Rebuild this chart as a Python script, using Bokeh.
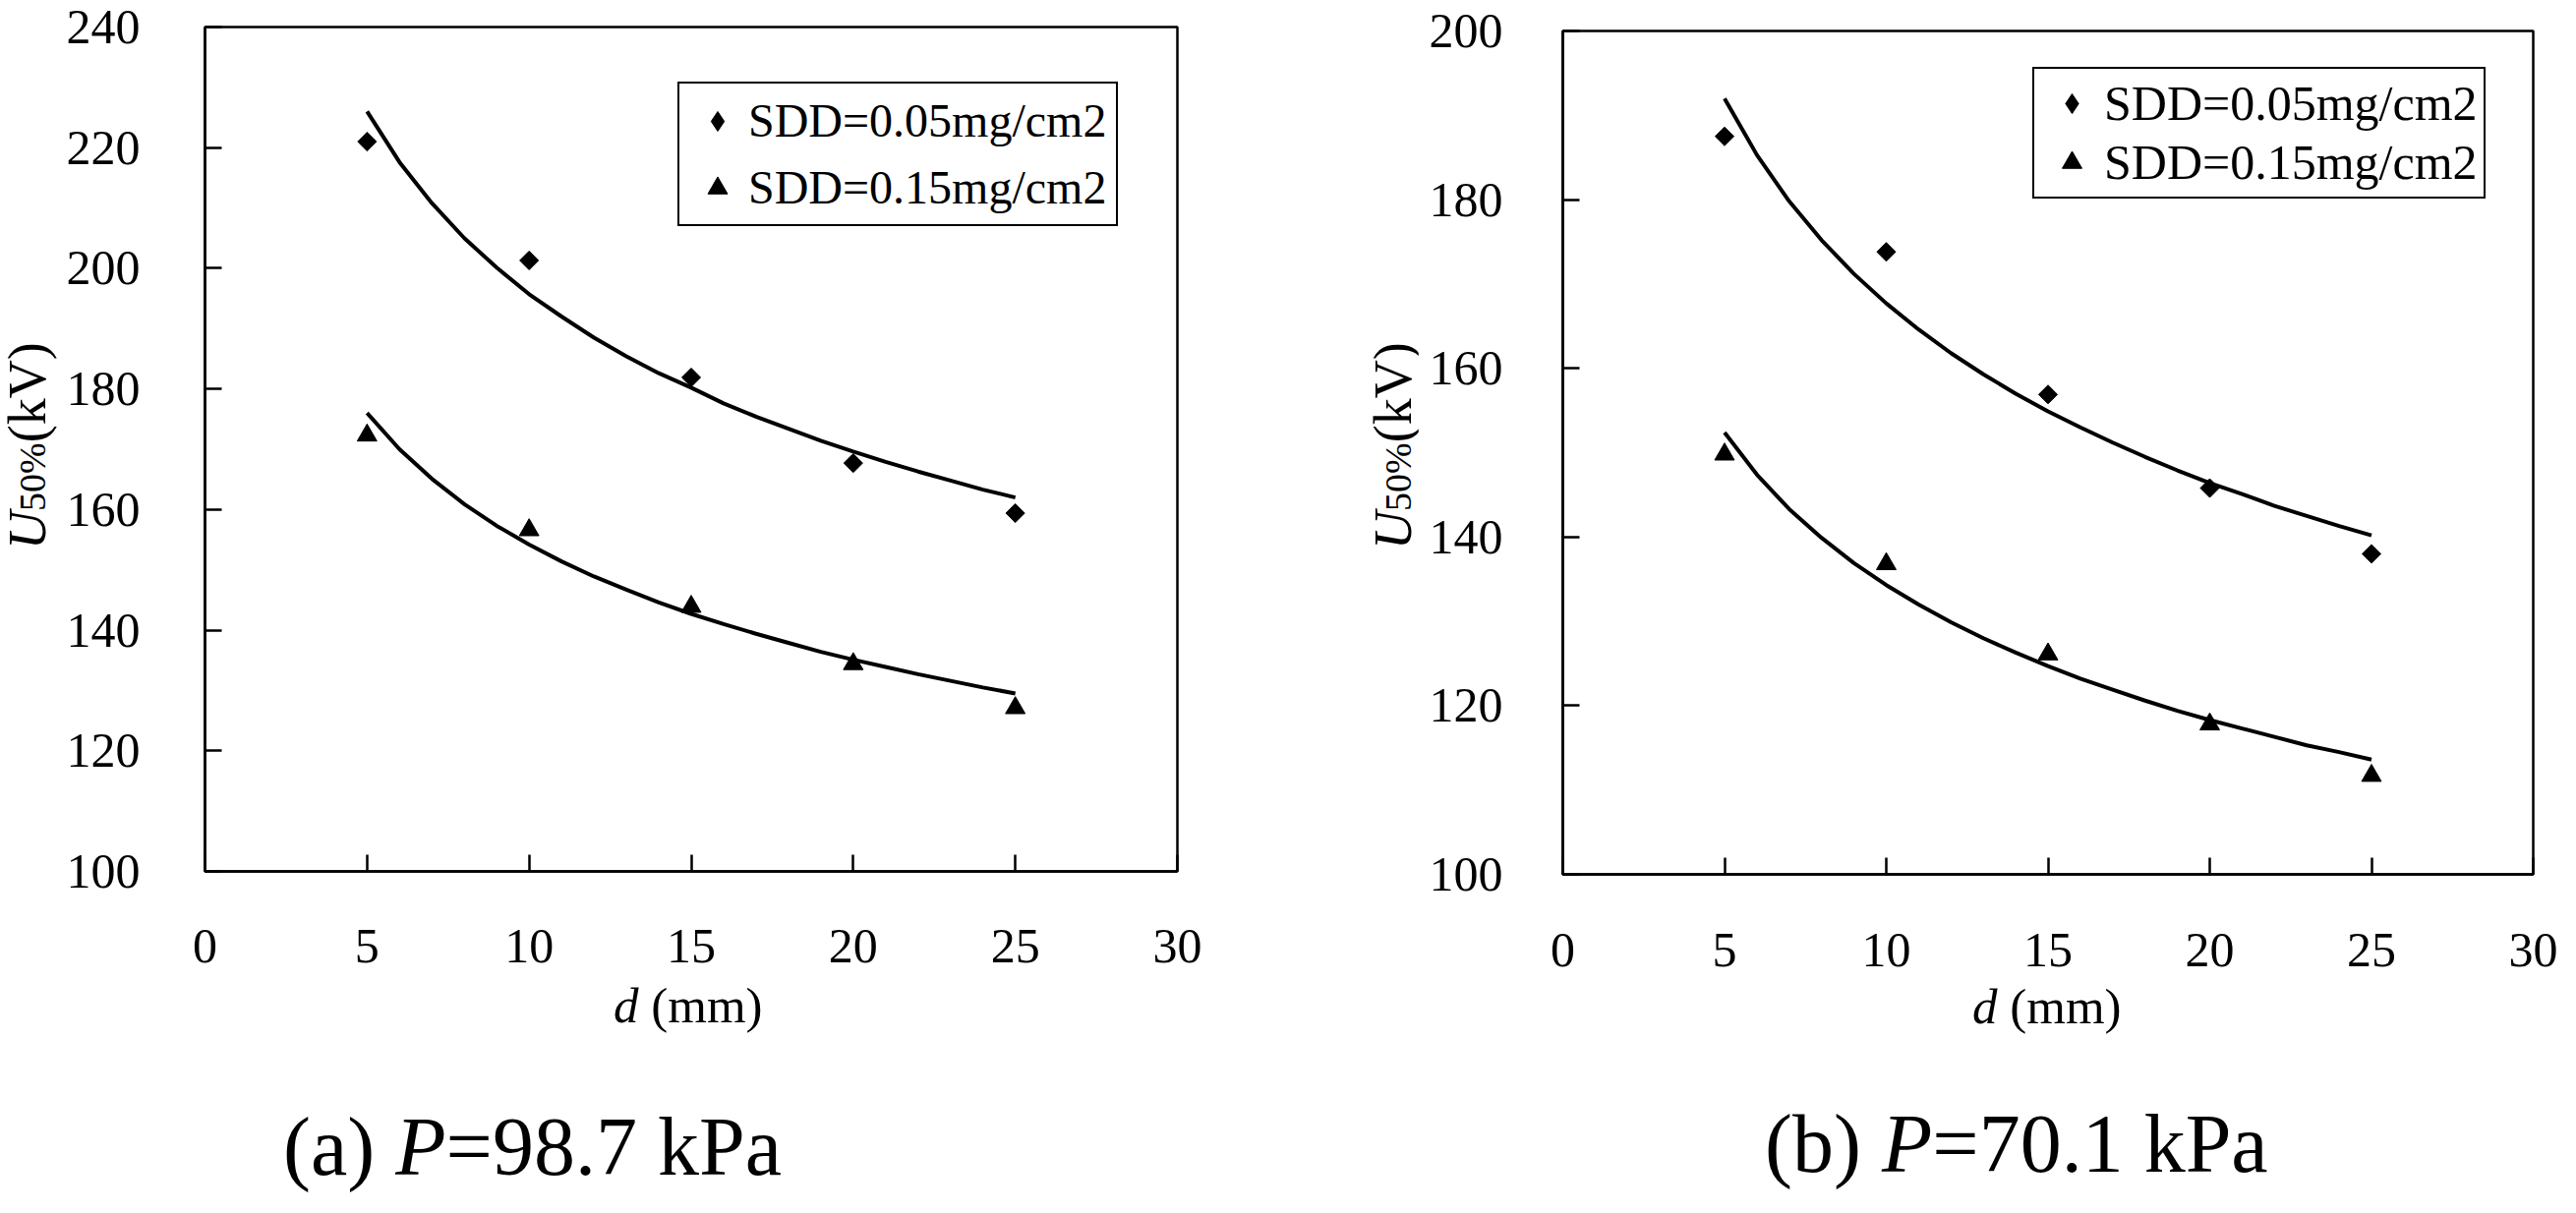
import math
from bokeh.plotting import figure
from bokeh.models import Range1d, FixedTicker, Legend, LegendItem, Div
from bokeh.layouts import row, column
from bokeh.embed import file_html
from bokeh.resources import INLINE

# ---------------- data ----------------
d_points = [5, 10, 15, 20, 25]
x_ticks = [0, 5, 10, 15, 20, 25, 30]
y_ticks_a = [100, 120, 140, 160, 180, 200, 220, 240]
y_ticks_b = [100, 120, 140, 160, 180, 200]

# (a) P = 98.7 kPa
a_sdd005 = [221.0, 201.3, 181.9, 167.7, 159.4]
a_sdd015 = [172.3, 156.6, 143.9, 134.4, 127.1]
# (b) P = 70.1 kPa
b_sdd005 = [187.5, 173.8, 156.9, 145.8, 138.0]
b_sdd015 = [149.8, 136.8, 126.1, 117.8, 111.7]

# fitted trend curves
fit_d = [5, 6, 7, 8, 9, 10, 11, 12, 13, 14, 15, 16, 17, 18, 19, 20, 21, 22, 23, 24, 25]
a_fit005 = [226.0, 217.6, 210.8, 205.0, 200.1, 195.7, 192.0, 188.5, 185.4, 182.6, 180.2,
            177.6, 175.4, 173.4, 171.4, 169.6, 167.9, 166.3, 164.8, 163.3, 162.0]
a_fit015 = [176.0, 170.0, 165.1, 160.9, 157.3, 154.2, 151.4, 148.9, 146.7, 144.6, 142.7,
            141.0, 139.4, 137.9, 136.4, 135.1, 133.9, 132.7, 131.6, 130.5, 129.5]
b_fit005 = [192.0, 185.3, 179.8, 175.2, 171.2, 167.7, 164.6, 161.8, 159.3, 157.0, 154.9,
            153.0, 151.2, 149.5, 147.9, 146.4, 145.1, 143.7, 142.5, 141.3, 140.2]
b_fit015 = [152.4, 147.4, 143.3, 139.9, 136.9, 134.3, 132.0, 129.9, 128.0, 126.3, 124.7,
            123.2, 121.9, 120.6, 119.4, 118.3, 117.3, 116.3, 115.3, 114.5, 113.6]

series_names = ["SDD=0.05mg/cm2", "SDD=0.15mg/cm2"]
captions = [("(a) ", "P", "=98.7 kPa"), ("(b) ", "P", "=70.1 kPa")]
ylabel_parts = ("U", "50%", "(kV)")
xlabel_parts = ("d", " (mm)")

FONT = "Liberation Serif"
TOTAL_H = 1218


def make_fig(ymax, yticks, s005, s015, f005, f015, cfg):
    p = figure(frame_width=cfg["fw"], frame_height=cfg["fh"],
               min_border_left=cfg["bl"], min_border_right=cfg["br"],
               min_border_top=cfg["bt"], min_border_bottom=cfg["bb"],
               x_range=Range1d(0, 30), y_range=Range1d(100, ymax),
               output_backend="svg", toolbar_location=None, tools="")
    p.background_fill_color = "white"
    p.border_fill_color = "white"
    p.outline_line_color = "black"
    p.outline_line_width = 2.5
    p.outline_line_alpha = 1.0
    p.xgrid.visible = False
    p.ygrid.visible = False

    for ax, ticks, stand in ((p.xaxis[0], x_ticks, cfg["xstand"]),
                             (p.yaxis[0], yticks, cfg["ystand"])):
        ax.ticker = FixedTicker(ticks=ticks)
        ax.axis_line_color = "black"
        ax.axis_line_width = 2.5
        ax.major_tick_line_color = "black"
        ax.major_tick_line_width = 2.5
        ax.major_tick_in = 17
        ax.major_tick_out = 0
        ax.minor_tick_line_color = None
        ax.major_label_text_font = FONT
        ax.major_label_text_font_size = "50px"
        ax.major_label_text_color = "black"
        ax.major_label_standoff = stand

    # fitted curves
    p.line(fit_d, f005, line_color="black", line_width=4)
    p.line(fit_d, f015, line_color="black", line_width=4)
    # legend-shape for the diamond series (hidden below the drawn diamonds)
    r1_leg = p.scatter(d_points, s005, marker="diamond", size=16,
                       fill_color="black", line_color="black")
    # measured points
    p.scatter(d_points, s005, marker="square", angle=math.pi / 4, size=13.5,
              fill_color="black", line_color="black")
    r2 = p.scatter(d_points, s015, marker="triangle", size=20,
                   fill_color="black", line_color="black")

    lg = cfg["legend"]
    legend = Legend(items=[LegendItem(label=series_names[0], renderers=[r1_leg]),
                           LegendItem(label=series_names[1], renderers=[r2])],
                    location=(lg["x"], lg["y"]),
                    label_text_font=FONT, label_text_font_size=lg["fs"],
                    label_text_color="black",
                    label_height=lg["lh"], glyph_height=50, glyph_width=lg["gw"],
                    label_standoff=lg["st"], spacing=lg["sp"], padding=lg["pad"],
                    margin=0, border_line_color="black", border_line_width=2.5,
                    border_line_alpha=1.0,
                    background_fill_color="white", background_fill_alpha=1.0)
    p.add_layout(legend, "center")
    return p


def span(left, top, size, inner, extra=""):
    return ('<span style="position:absolute;left:%.1fpx;top:%.1fpx;white-space:nowrap;'
            "font-family:'Liberation Serif';font-size:%dpx;line-height:%dpx;color:#000;%s\">%s</span>"
            % (left, top, size, size, extra, inner))


def ylabel_div(width, left, top):
    u, sub, unit = ylabel_parts
    inner = '<i>%s</i><span style="font-size:38px;">%s</span>%s' % (u, sub, unit)
    html = ('<div style="position:relative;width:%dpx;height:%dpx;">' % (width, TOTAL_H)
            + span(left, top, 54, inner, "transform-origin:0 0;transform:rotate(-90deg);")
            + "</div>")
    return Div(text=html, width=width, height=TOTAL_H, margin=0,
               styles={"overflow": "visible"})


def bottom_div(width, height, xl, cap, cap_parts):
    pre, ital, post = cap_parts
    d, mm = xlabel_parts
    html = ('<div style="position:relative;width:%dpx;height:%dpx;">' % (width, height)
            + span(xl[0], xl[1], 51, "<i>%s</i>%s" % (d, mm))
            + span(cap[0], cap[1], 84, "%s<i>%s</i>%s" % (pre, ital, post))
            + "</div>")
    return Div(text=html, width=width, height=height, margin=0,
               styles={"overflow": "visible"})


cfg_a = dict(fw=989, fh=859, bl=150, br=95, bt=27, bb=130, xstand=59, ystand=66,
             legend=dict(x=481, y=656, fs="48px", lh=53, gw=57, st=3, sp=13, pad=10))
cfg_b = dict(fw=987, fh=858, bl=147, br=28, bt=31, bb=130, xstand=60, ystand=61,
             legend=dict(x=478, y=687, fs="50px", lh=55, gw=64, st=1, sp=2, pad=6))

pa = make_fig(240, y_ticks_a, a_sdd005, a_sdd015, a_fit005, a_fit015, cfg_a)
pb = make_fig(200, y_ticks_b, b_sdd005, b_sdd015, b_fit005, b_fit015, cfg_b)

wa = cfg_a["bl"] + cfg_a["fw"] + cfg_a["br"]
ha = cfg_a["bt"] + cfg_a["fh"] + cfg_a["bb"]
wb = cfg_b["bl"] + cfg_b["fw"] + cfg_b["br"]
hb = cfg_b["bt"] + cfg_b["fh"] + cfg_b["bb"]

panel_a = row(ylabel_div(58, 0.8, 559),
              column(pa, bottom_div(wa, TOTAL_H - ha, (566, -17.7), (230, 108.6), captions[0])))
panel_b = row(ylabel_div(150, 97.8, 559),
              column(pb, bottom_div(wb, TOTAL_H - hb, (564, -19.7), (353, 102.6), captions[1])))

layout = row(panel_a, panel_b)
open("out.html", "w").write(file_html(layout, INLINE))
